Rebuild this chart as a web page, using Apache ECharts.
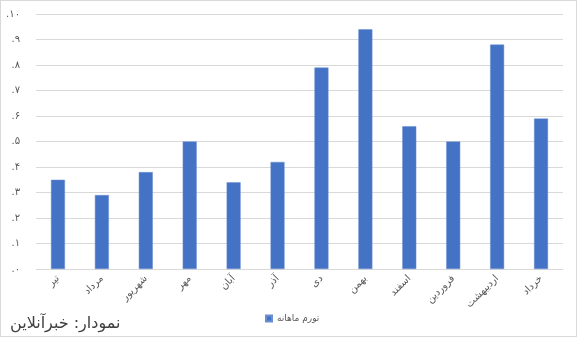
<!DOCTYPE html>
<html>
<head>
<meta charset="utf-8">
<script src="https://cdn.jsdelivr.net/npm/echarts@6/dist/echarts.min.js"></script>
<style>
  html, body { margin: 0; padding: 0; background: #fff; }
  #chart { width: 575px; height: 335px; border: 1px solid #d9d9d9; }
</style>
</head>
<body>
<div id="chart"></div>
<script>
// ماه‌ها و تورم ماهانه
const months = ['تیر', 'مرداد', 'شهریور', 'مهر', 'آبان', 'آذر', 'دی', 'بهمن', 'اسفند', 'فروردین', 'اردیبهشت', 'خرداد'];
const inflation = [3.5, 2.9, 3.8, 5.0, 3.4, 4.2, 7.9, 9.4, 5.6, 5.0, 8.8, 5.9];
const seriesName = 'تورم ماهانه';
const sourceText = 'نمودار: خبرآنلاین';

const faDigits = '۰۱۲۳۴۵۶۷۸۹';
const toFa = n => String(n).replace(/\d/g, d => faDigits[d]);

const chart = echarts.init(document.getElementById('chart'));
chart.setOption({
  animation: false,
  textStyle: { fontFamily: 'DejaVu Sans' },
  title: {
    text: sourceText,
    left: 4,
    top: 310,
    textStyle: { fontSize: 16, fontWeight: 'normal', color: '#404040', fontFamily: 'DejaVu Sans' }
  },
  legend: {
    left: 259,
    top: 308,
    icon: 'rect',
    itemWidth: 6,
    itemHeight: 6,
    itemGap: 4,
    textStyle: { fontSize: 9, color: '#595959' },
    data: [seriesName]
  },
  grid: { left: 35, right: 13, top: 13, bottom: 67, containLabel: false },
  xAxis: {
    type: 'category',
    data: months,
    axisLine: { lineStyle: { color: '#d9d9d9' } },
    axisTick: { show: false },
    axisLabel: { rotate: 45, fontSize: 10, color: '#595959', margin: 8, interval: 0 }
  },
  yAxis: {
    type: 'value',
    min: 0,
    max: 10,
    interval: 1,
    axisLine: { show: false },
    axisTick: { show: false },
    splitLine: { lineStyle: { color: '#d9d9d9' } },
    axisLabel: { fontSize: 10, color: '#595959', margin: 16, formatter: v => '.' + toFa(v) }
  },
  series: [{
    name: seriesName,
    type: 'bar',
    data: inflation,
    barWidth: 14,
    itemStyle: { color: '#4472C4', borderColor: '#6a8fd3', borderWidth: 0.5 }
  }]
});
</script>
</body>
</html>
